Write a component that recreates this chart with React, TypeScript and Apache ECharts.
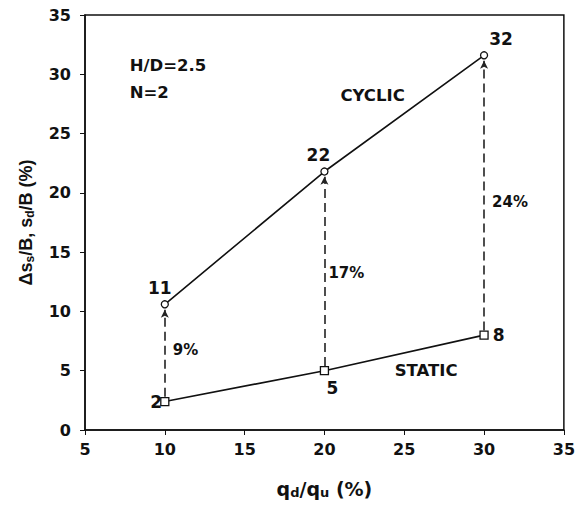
import React, { useEffect, useRef } from "react";
import * as echarts from "echarts";

const xValues = [10, 20, 30];
const cyclicValues = [10.6, 21.8, 31.6];
const staticValues = [2.4, 5.0, 8.0];
const cyclicLabels = ["11", "22", "32"];
const staticLabels = ["2", "5", "8"];
const diffLabels = ["9%", "17%", "24%"];
const diffLabelY = [6.75, 13.25, 19.2];
const notes = [
  { text: "H/D=2.5", x: 7.8, y: 30.7 },
  { text: "N=2", x: 7.8, y: 28.5 },
  { text: "CYCLIC", x: 21.0, y: 28.2 },
  { text: "STATIC", x: 24.4, y: 5.05 },
];

const HFONT = "DejaVu Sans";
const VFONT = "Liberation Sans";

export default function App() {
  const ref = useRef<HTMLDivElement>(null);
  useEffect(() => {
    if (!ref.current) return;
    const chart = echarts.init(ref.current, undefined, { renderer: "svg" });
    const cyclicPos: any[] = [
      { position: "top", offset: [-5, 0] },
      { position: "top", offset: [-6, 0] },
      { position: "top", offset: [17, 0] },
    ];
    const staticPos: any[] = [
      { position: "left", offset: [6, 0] },
      { position: "bottom", offset: [8, 0] },
      { position: "right", offset: [0, 0] },
    ];
    const diffDist = [8, 4, 8];
    const baseLabel = {
      show: true,
      color: "#111",
      fontFamily: HFONT,
      fontWeight: "bold",
      fontSize: 17,
    };
    chart.setOption({
      animation: false,
      backgroundColor: "#fff",
      grid: {
        left: 85,
        right: 11,
        top: 15,
        bottom: 80,
        show: true,
        borderColor: "#111",
        borderWidth: 1.5,
        backgroundColor: "transparent",
      },
      xAxis: {
        type: "value",
        min: 5,
        max: 35,
        interval: 5,
        splitLine: { show: false },
        axisLine: { lineStyle: { color: "#111", width: 1.5 } },
        axisTick: { show: true, length: 5, lineStyle: { color: "#111" } },
        axisLabel: {
          color: "#111",
          fontFamily: HFONT,
          fontWeight: "bold",
          fontSize: 16,
          margin: 11,
        },
        name: "q{sub|d}/q{sub|u} (%)",
        nameLocation: "middle",
        nameGap: 48,
        nameTextStyle: {
          color: "#111",
          fontFamily: HFONT,
          fontWeight: "bold",
          fontSize: 19,
          rich: {
            sub: {
              fontFamily: HFONT,
              fontWeight: "bold",
              fontSize: 13,
              color: "#111",
              padding: [8, 0, 0, 0],
            },
          },
        },
      },
      yAxis: {
        type: "value",
        min: 0,
        max: 35,
        interval: 5,
        splitLine: { show: false },
        axisLine: { lineStyle: { color: "#111", width: 1.5 } },
        axisTick: { show: true, length: 5, lineStyle: { color: "#111" } },
        axisLabel: {
          color: "#111",
          fontFamily: HFONT,
          fontWeight: "bold",
          fontSize: 16,
          margin: 14,
        },
        name: "\u0394s{sub|s}/B, s{sub|d}/B (%)",
        nameLocation: "middle",
        nameGap: 49,
        nameTextStyle: {
          color: "#111",
          fontFamily: VFONT,
          fontWeight: "bold",
          fontSize: 18,
          rich: {
            sub: {
              fontFamily: VFONT,
              fontWeight: "bold",
              fontSize: 12,
              color: "#111",
              padding: [8, 0, 0, 0],
            },
          },
        },
      },
      series: [
        {
          name: "arrows",
          type: "line",
          data: [],
          silent: true,
          markLine: {
            silent: true,
            symbol: ["none", "arrow"],
            symbolSize: [6, 8],
            label: { show: false },
            lineStyle: { color: "#222", type: [9, 5], width: 1.6, opacity: 1 },
            data: xValues.map((x, i) => [
              { coord: [x, staticValues[i] + 0.4] },
              { coord: [x, cyclicValues[i] - 0.45] },
            ]),
          },
        },
        {
          name: "CYCLIC",
          type: "line",
          data: xValues.map((x, i) => ({
            value: [x, cyclicValues[i]],
            label: { ...baseLabel, ...cyclicPos[i], formatter: cyclicLabels[i] },
          })),
          symbol: "circle",
          symbolSize: 7,
          showAllSymbol: true,
          itemStyle: { color: "#fff", borderColor: "#111", borderWidth: 1.3 },
          lineStyle: { color: "#111", width: 1.6 },
          label: { ...baseLabel, distance: 4 },
          z: 5,
        },
        {
          name: "STATIC",
          type: "line",
          data: xValues.map((x, i) => ({
            value: [x, staticValues[i]],
            label: { ...baseLabel, ...staticPos[i], formatter: staticLabels[i] },
          })),
          symbol: "rect",
          symbolSize: 8,
          showAllSymbol: true,
          itemStyle: { color: "#fff", borderColor: "#111", borderWidth: 1.3 },
          lineStyle: { color: "#111", width: 1.6 },
          label: { ...baseLabel, distance: 4 },
          z: 5,
        },
        {
          name: "diff",
          type: "scatter",
          symbolSize: 0,
          silent: true,
          itemStyle: { opacity: 1, color: "#111" },
          data: xValues.map((x, i) => ({
            value: [x, diffLabelY[i]],
            label: {
              show: true,
              position: "right",
              distance: diffDist[i],
              formatter: diffLabels[i],
              color: "#111",
              opacity: 1,
              fontFamily: HFONT,
              fontWeight: "bold",
              fontSize: 15,
            },
          })),
        },
        {
          name: "notes",
          type: "scatter",
          symbolSize: 0,
          silent: true,
          itemStyle: { opacity: 1, color: "#111" },
          data: notes.map((n) => ({
            value: [n.x, n.y],
            label: {
              show: true,
              position: "right",
              distance: 0,
              formatter: n.text,
              color: "#111",
              opacity: 1,
              fontFamily: HFONT,
              fontWeight: "bold",
              fontSize: 16.5,
            },
          })),
        },
      ],
    });
    return () => chart.dispose();
  }, []);
  return (
    <div
      ref={ref}
      style={{ position: "fixed", left: 0, top: 0, width: 578, height: 510 }}
    />
  );
}
